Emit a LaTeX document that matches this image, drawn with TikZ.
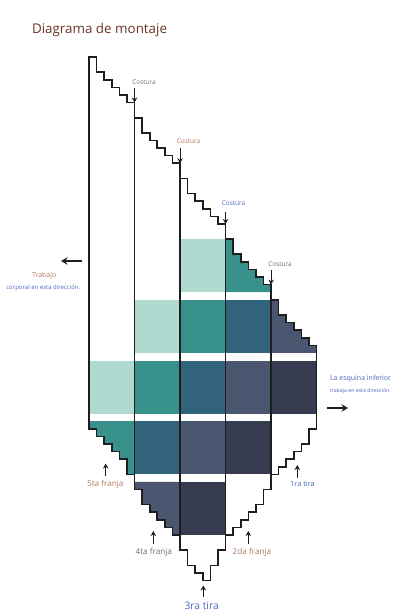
\documentclass[tikz,border=0pt]{standalone}
\usepackage{fontspec}
\setmainfont{Open Sans}
\usetikzlibrary{arrows.meta}
\definecolor{mint}{HTML}{B0DAD0}
\definecolor{tealc}{HTML}{38928B}
\definecolor{bteal}{HTML}{32637C}
\definecolor{slatec}{HTML}{4A5670}
\definecolor{navyc}{HTML}{373B4F}
\definecolor{titlebrown}{HTML}{6B3526}
\definecolor{labbrown}{HTML}{B07A5E}
\definecolor{labblue}{HTML}{4A68B8}
\definecolor{labgray}{HTML}{6E6E6E}
\definecolor{ink}{HTML}{1E1E1E}
\begin{document}
\begin{tikzpicture}[x=1pt,y=-1pt,
  outline/.style={draw=ink, line width=1.6pt, line join=miter},
  smallarrow/.style={draw=ink, line width=1pt, -{Stealth[length=5pt,width=5.5pt]}},
  bigarrow/.style={draw=ink, line width=1.9pt, -{Stealth[length=6.5pt,width=7.5pt]}},
  lbl/.style={inner sep=0pt, outer sep=0pt},
  fcos/.style={lbl, font=\fontsize{6.5}{7}\selectfont, anchor=base west},
  fband/.style={lbl, font=\fontsize{8.2}{9}\selectfont, anchor=base},
]
\useasboundingbox (0,0) rectangle (413,616);

\node[lbl, font=\fontsize{13.4}{15}\selectfont, text=titlebrown, anchor=base west] (title) at (32,33.4) {Diagrama de montaje};

\begin{scope}[shift={(89pt,-57pt)}, x=7.5875pt, y=-7.5875pt]
% row A
\fill[mint] (12,24) rectangle (18,31);
\fill[tealc] (18,24) -- (19,24) -- (19,26) -- (20,26) -- (20,27) -- (21,27) -- (21,28) -- (22,28) -- (22,29) -- (23,29) -- (23,30) -- (24,30) -- (24,31) -- (18,31) -- cycle;
% row B
\fill[mint] (6,32) rectangle (12,39);
\fill[tealc] (12,32) rectangle (18,39);
\fill[bteal] (18,32) rectangle (24,39);
\fill[slatec] (24,32) -- (25,32) -- (25,34) -- (26,34) -- (26,35) -- (27,35) -- (27,36) -- (28,36) -- (28,37) -- (29,37) -- (29,38) -- (30,38) -- (30,39) -- (24,39) -- cycle;
% row C
\fill[mint] (0,40) rectangle (6,47);
\fill[tealc] (6,40) rectangle (12,47);
\fill[bteal] (12,40) rectangle (18,47);
\fill[slatec] (18,40) rectangle (24,47);
\fill[navyc] (24,40) rectangle (30,47);
% row D
\fill[tealc] (0,48) -- (6,48) -- (6,55) -- (5,55) -- (5,53) -- (4,53) -- (4,52) -- (3,52) -- (3,51) -- (2,51) -- (2,50) -- (1,50) -- (1,49) -- (0,49) -- cycle;
\fill[bteal] (6,48) rectangle (12,55);
\fill[slatec] (12,48) rectangle (18,55);
\fill[navyc] (18,48) rectangle (24,55);
% row E
\fill[slatec] (6,56) -- (12,56) -- (12,63) -- (11,63) -- (11,62) -- (10,62) -- (10,61) -- (9,61) -- (9,60) -- (8,60) -- (8,59) -- (7,59) -- (7,57) -- (6,57) -- cycle;
\fill[navyc] (12,56) rectangle (18,63);

% strip outlines
\draw[outline] (0,0) -- (1,0) -- (1,2) -- (2,2) -- (2,3) -- (3,3) -- (3,4) -- (4,4) -- (4,5) -- (5,5) -- (5,6) -- (6,6) -- (6,55) -- (5,55) -- (5,53) -- (4,53) -- (4,52) -- (3,52) -- (3,51) -- (2,51) -- (2,50) -- (1,50) -- (1,49) -- (0,49) -- cycle;
\draw[outline] (6,8) -- (7,8) -- (7,10) -- (8,10) -- (8,11) -- (9,11) -- (9,12) -- (10,12) -- (10,13) -- (11,13) -- (11,14) -- (12,14) -- (12,63) -- (11,63) -- (11,62) -- (10,62) -- (10,61) -- (9,61) -- (9,60) -- (8,60) -- (8,59) -- (7,59) -- (7,57) -- (6,57) -- cycle;
\draw[outline] (12,16) -- (13,16) -- (13,18) -- (14,18) -- (14,19) -- (15,19) -- (15,20) -- (16,20) -- (16,21) -- (17,21) -- (17,22) -- (18,22) -- (18,65) -- (17,65) -- (17,67) -- (16,67) -- (16,69) -- (15,69) -- (15,68) -- (14,68) -- (14,67) -- (13,67) -- (13,65) -- (12,65) -- cycle;
\draw[outline] (18,24) -- (19,24) -- (19,26) -- (20,26) -- (20,27) -- (21,27) -- (21,28) -- (22,28) -- (22,29) -- (23,29) -- (23,30) -- (24,30) -- (24,57) -- (23,57) -- (23,59) -- (22,59) -- (22,60) -- (21,60) -- (21,61) -- (20,61) -- (20,62) -- (19,62) -- (19,63) -- (18,63) -- cycle;
\draw[outline] (24,32) -- (25,32) -- (25,34) -- (26,34) -- (26,35) -- (27,35) -- (27,36) -- (28,36) -- (28,37) -- (29,37) -- (29,38) -- (30,38) -- (30,49) -- (29,49) -- (29,51) -- (28,51) -- (28,52) -- (27,52) -- (27,53) -- (26,53) -- (26,54) -- (25,54) -- (25,55) -- (24,55) -- cycle;

\coordinate (s1) at (6,6);
\coordinate (s2) at (12,14);
\coordinate (s3) at (18,22);
\coordinate (s4) at (24,30);
\end{scope}

% Costura labels and arrows
\node[fcos, text=labgray] (cos1) at (132.3,84.3) {Costura};
\node[fcos, text=labbrown] (cos2) at (176.8,143) {Costura};
\node[fcos, text=labblue] (cos3) at (221.8,205) {Costura};
\node[fcos, text=labgray] (cos4) at (268.3,266.5) {Costura};
\coordinate (s1t) at ([yshift=14.5pt]s1);
\coordinate (s2t) at ([yshift=15pt]s2);
\coordinate (s3t) at ([yshift=11.5pt]s3);
\coordinate (s4t) at ([yshift=14.5pt]s4);
\draw[smallarrow] (s1t) -- (s1);
\draw[smallarrow] (s2t) -- (s2);
\draw[smallarrow] (s3t) -- (s3);
\draw[smallarrow] (s4t) -- (s4);

% left direction
\coordinate (la1) at (82,261);
\coordinate (la2) at (61,261);
\draw[bigarrow] (la1) -- (la2);
\node[lbl, font=\fontsize{7}{8}\selectfont, text=labbrown, anchor=base] (trab) at (44.2,277.7) {Trabajo};
\node[lbl, font=\fontsize{6}{7}\selectfont, text=labblue, anchor=base] (corp) at (43.3,289) {corporal en esta dirección.};

% right direction
\node[lbl, font=\fontsize{7}{8}\selectfont, text=labblue, anchor=base west] (esq) at (330,380.5) {La esquina inferior};
\node[lbl, font=\fontsize{5.2}{6}\selectfont, text=labblue, anchor=base west] (trabr) at (330,392) {trabaja en esta dirección.};
\coordinate (ra1) at (327,408);
\coordinate (ra2) at (348,408);
\draw[bigarrow] (ra1) -- (ra2);

% band labels
\node[fband, text=labbrown] (f5) at (105.3,486) {5ta franja};
\node[fband, text=labgray] (f4) at (153.8,554) {4ta franja};
\node[fband, text=labbrown] (f2) at (252,554) {2da franja};
\node[lbl, font=\fontsize{10.3}{11}\selectfont, text=labblue, anchor=base] (t3) at (201.7,609) {3ra tira};
\node[lbl, font=\fontsize{7.4}{8}\selectfont, text=labblue, anchor=base] (t1) at (302.5,486.5) {1ra tira};

\coordinate (a5t) at (105.7,476); \coordinate (a5h) at (105.7,463.5);
\coordinate (a4t) at (153.3,544); \coordinate (a4h) at (153.3,531);
\coordinate (a2t) at (248.3,544); \coordinate (a2h) at (248.3,531);
\coordinate (a3t) at (203.3,597); \coordinate (a3h) at (203.3,585.5);
\coordinate (a1t) at (297.3,478); \coordinate (a1h) at (297.3,465);
\draw[smallarrow] (a5t) -- (a5h);
\draw[smallarrow] (a4t) -- (a4h);
\draw[smallarrow] (a2t) -- (a2h);
\draw[smallarrow] (a3t) -- (a3h);
\draw[smallarrow] (a1t) -- (a1h);
\end{tikzpicture}
\end{document}
